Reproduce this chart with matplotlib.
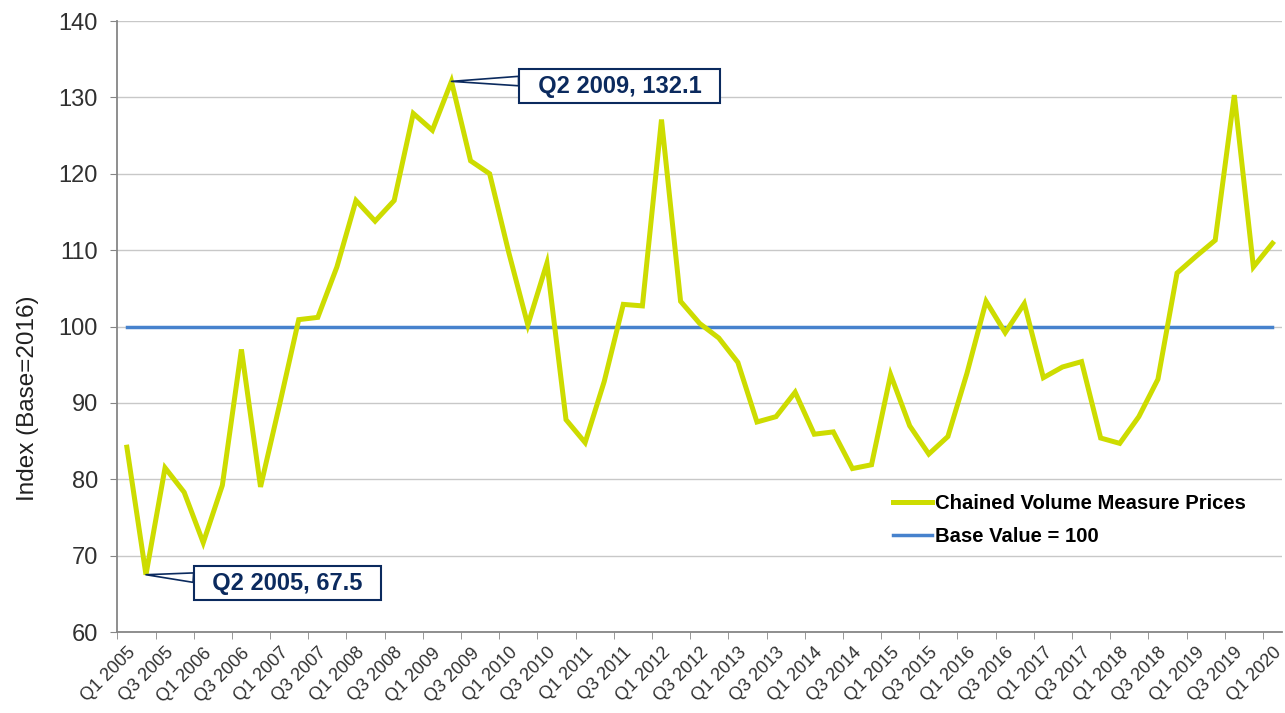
import numpy as np
import matplotlib.pyplot as plt
from matplotlib.ticker import FixedLocator

plt.rcParams['font.family'] = ['Liberation Sans', 'DejaVu Sans']

# Q1 2005 .. Q1 2020, quarterly index (Base=2016)
quarters = []
for yr in range(2005, 2021):
    for q in range(1, 5):
        quarters.append("Q%d %d" % (q, yr))
quarters = quarters[:61]

cvm_prices = [84.2, 67.5, 81.5, 78.3, 71.7, 79.2, 97.0, 79.0, 89.8, 100.9,
              101.2, 107.8, 116.5, 113.8, 116.5, 127.9, 125.7, 132.1, 121.7, 120.0,
              109.7, 100.2, 108.3, 87.8, 84.8, 92.8, 102.9, 102.7, 127.1, 103.3,
              100.4, 98.5, 95.3, 87.5, 88.2, 91.4, 85.9, 86.2, 81.4, 81.9,
              93.7, 87.0, 83.3, 85.6, 93.9, 103.3, 99.2, 103.0, 93.3, 94.7,
              95.4, 85.4, 84.7, 88.2, 93.1, 107.0, 109.2, 111.3, 130.3, 107.8,
              110.9]
base_value = [100] * len(quarters)

x = np.arange(len(quarters))
green = '#cddc00'
blue = '#4682cd'
navy = '#0b2a5e'

fig = plt.figure(figsize=(12.85, 7.13), dpi=100)
ax = fig.add_axes([0.0913, 0.1136, 0.9064, 0.8569])

ax.plot(x, cvm_prices, color=green, lw=3.6, solid_joinstyle='miter', label='Chained Volume Measure Prices', zorder=3)
ax.plot(x, base_value, color=blue, lw=2.5, label='Base Value = 100', zorder=2)

ax.set_xlim(-0.5, len(quarters) - 0.5)
ax.set_ylim(60, 140)
ax.set_yticks(range(60, 141, 10))
ax.yaxis.grid(True, color='#c8c8c8', lw=1)
ax.set_axisbelow(True)

ax.set_xticks(x[::2])
ax.set_xticklabels(quarters[::2], rotation=45, ha='right', rotation_mode='anchor', fontsize=13, color='#303030')
ax.xaxis.set_minor_locator(FixedLocator(np.arange(-0.5, len(quarters) - 1, 2)))
ax.tick_params(axis='x', which='major', length=0, pad=9)
ax.tick_params(axis='x', which='minor', length=5, color='#868686', direction='out')
ax.tick_params(axis='y', length=5, color='#868686', labelsize=17, labelcolor='#303030', pad=9)

for s in ['top', 'right']:
    ax.spines[s].set_visible(False)
for s in ['left', 'bottom']:
    ax.spines[s].set_color('#868686')
    ax.spines[s].set_linewidth(1.3)

ax.set_ylabel('Index (Base=2016)', fontsize=17.5, color='#202020')
ax.yaxis.set_label_coords(-0.067, 0.383)

# callouts for min and max
i_min = int(np.argmin(cvm_prices))
i_max = int(np.argmax(cvm_prices))
for i, off in [(i_min, (102, -6)), (i_max, (121, -3.4))]:
    ax.annotate('  %s, %.1f  ' % (quarters[i], cvm_prices[i]), xy=(x[i], cvm_prices[i]),
                xytext=off, textcoords='offset points', ha='center', va='center',
                fontsize=17, fontweight='bold', color=navy, zorder=5,
                bbox=dict(boxstyle='square,pad=0.22', fc='white', ec=navy, lw=1.5),
                arrowprops=dict(arrowstyle='wedge,tail_width=0.4', fc='white', ec=navy, lw=1.2,
                                relpos=(0, 0.72), shrinkA=0, shrinkB=0))

leg = ax.legend(loc='upper left', bbox_to_anchor=(0.666, 0.2255), frameon=False,
                handlelength=1.9, handletextpad=0.15, labelspacing=0.68, borderpad=0,
                borderaxespad=0, prop={'size': 14.6, 'weight': 'bold'})

fig.savefig('out.png', dpi=100)
